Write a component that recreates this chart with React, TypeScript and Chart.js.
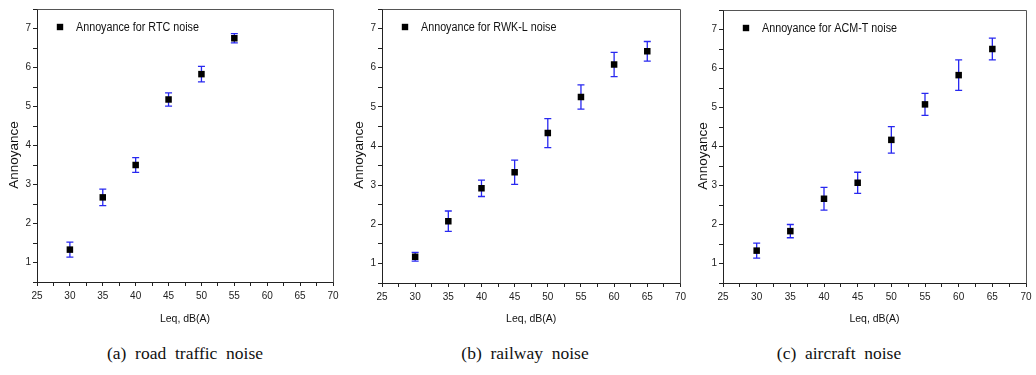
import React, { useEffect, useRef } from 'react';
import { Chart, registerables } from 'chart.js';

Chart.register(...registerables);

// ---------------- data ----------------
const rtcLevels = [30, 35, 40, 45, 50, 55];
const rtcMeans = [1.33, 2.67, 3.5, 5.18, 5.83, 6.75];
const rtcErrors = [0.19, 0.21, 0.19, 0.17, 0.2, 0.12];

const rwkLevels = [30, 35, 40, 45, 50, 55, 60, 65];
const rwkMeans = [1.17, 2.08, 2.92, 3.33, 4.33, 5.25, 6.08, 6.42];
const rwkErrors = [0.11, 0.26, 0.21, 0.31, 0.37, 0.31, 0.31, 0.25];

const acmLevels = [30, 35, 40, 45, 50, 55, 60, 65];
const acmMeans = [1.33, 1.83, 2.66, 3.07, 4.17, 5.08, 5.83, 6.5];
const acmErrors = [0.19, 0.17, 0.29, 0.27, 0.34, 0.28, 0.39, 0.28];

const legendLabels = ['Annoyance for RTC noise', 'Annoyance for RWK-L noise', 'Annoyance for ACM-T noise'];
const captions = ['(a)  road  traffic  noise', '(b)  railway  noise', '(c)  aircraft  noise'];
const xTitle = 'Leq, dB(A)';
const yTitle = 'Annoyance';
const xRange = [25, 70];
const yRange = [0.5, 7.5];

const SANS = "'Liberation Sans', Arial, sans-serif";

type Frame = {
  canvasLeft: number;
  width: number;
  height: number;
  plotLeft: number;
  plotRight: number;
  plotTop: number;
  plotBottom: number;
  yTitleX: number;
  yTitleY: number;
};

const H = 332;
const frames: Frame[] = [
  { canvasLeft: 0, width: 345, height: H, plotLeft: 37, plotRight: 333, plotTop: 9, plotBottom: 282, yTitleX: 14, yTitleY: 155 },
  { canvasLeft: 345, width: 345, height: H, plotLeft: 37, plotRight: 336, plotTop: 9, plotBottom: 283, yTitleX: 14, yTitleY: 155 },
  { canvasLeft: 690, width: 346, height: H, plotLeft: 33, plotRight: 336, plotTop: 10, plotBottom: 283, yTitleX: 13, yTitleY: 156 },
];

const captionCenters = [185, 525, 839];

function Panel(props: { levels: number[]; means: number[]; errors: number[]; label: string; frame: Frame }) {
  const ref = useRef<HTMLCanvasElement>(null);
  useEffect(() => {
    const canvas = ref.current;
    if (!canvas) return;
    const f = props.frame;
    const errors = props.errors;

    const errorBars = {
      id: 'errorBars',
      beforeDatasetsDraw(chart: any) {
        const ctx = chart.ctx;
        const xs = chart.scales.x;
        const ys = chart.scales.y;
        const ds = chart.data.datasets[0];
        ctx.save();
        ctx.strokeStyle = 'rgb(40,40,240)';
        ctx.lineWidth = 1.3;
        ds.data.forEach((p: any, i: number) => {
          const px = xs.getPixelForValue(p.x);
          const top = ys.getPixelForValue(p.y + errors[i]);
          const bot = ys.getPixelForValue(p.y - errors[i]);
          const cap = 3.5;
          ctx.beginPath();
          ctx.moveTo(px, top);
          ctx.lineTo(px, bot);
          ctx.moveTo(px - cap, top);
          ctx.lineTo(px + cap, top);
          ctx.moveTo(px - cap, bot);
          ctx.lineTo(px + cap, bot);
          ctx.stroke();
        });
        ctx.restore();
      },
    };

    const frameAndLabels = {
      id: 'frameAndLabels',
      beforeDatasetsDraw(chart: any) {
        const ctx = chart.ctx;
        const a = chart.chartArea;
        ctx.save();
        ctx.strokeStyle = '#555';
        ctx.lineWidth = 1;
        ctx.beginPath();
        ctx.moveTo(Math.round(a.left) + 0.5, Math.round(a.top) + 0.5);
        ctx.lineTo(Math.round(a.right) + 0.5, Math.round(a.top) + 0.5);
        ctx.lineTo(Math.round(a.right) + 0.5, Math.round(a.bottom) + 0.5);
        ctx.stroke();
        ctx.restore();
      },
      afterDraw(chart: any) {
        const ctx = chart.ctx;
        const a = chart.chartArea;
        ctx.save();
        // legend
        const mx = a.left + 23;
        const my = a.top + 18;
        ctx.fillStyle = '#000';
        ctx.fillRect(mx - 3.2, my - 3.2, 6.4, 6.4);
        ctx.save();
        ctx.translate(a.left + 39, my + 0.5);
        ctx.scale(0.86, 1);
        ctx.font = `12.5px ${SANS}`;
        ctx.fillStyle = '#111';
        ctx.textAlign = 'left';
        ctx.textBaseline = 'middle';
        ctx.fillText(props.label, 0, 0);
        ctx.restore();
        // y title
        ctx.translate(f.yTitleX, f.yTitleY);
        ctx.rotate(-Math.PI / 2);
        ctx.textAlign = 'center';
        ctx.textBaseline = 'middle';
        ctx.fillStyle = '#111';
        ctx.font = `13.5px ${SANS}`;
        ctx.fillText(yTitle, 0, 0);
        ctx.restore();
      },
    };

    const chart = new Chart(canvas, {
      type: 'scatter',
      data: {
        datasets: [
          {
            label: props.label,
            data: props.levels.map((x, i) => ({ x, y: props.means[i] })),
            pointStyle: 'rect',
            pointRadius: 4.6,
            pointHoverRadius: 4.6,
            backgroundColor: '#000',
            borderColor: '#000',
            borderWidth: 0,
          },
        ],
      },
      options: {
        animation: false,
        responsive: false,
        maintainAspectRatio: false,
        events: [],
        layout: { padding: { top: f.plotTop, right: f.width - f.plotRight, left: 0, bottom: 0 } },
        plugins: { legend: { display: false }, tooltip: { enabled: false } },
        scales: {
          x: {
            type: 'linear',
            min: xRange[0],
            max: xRange[1],
            ticks: {
              stepSize: 2.5,
              autoSkip: false,
              maxRotation: 0,
              callback: (v: any) => (Math.abs(v / 5 - Math.round(v / 5)) < 1e-6 ? String(v) : ''),
              font: { family: SANS, size: 10 },
              color: '#222',
              padding: 4,
            },
            grid: { drawOnChartArea: false, drawTicks: true, tickLength: 4, color: '#222' },
            border: { color: '#222', width: 1 },
            title: { display: true, text: xTitle, font: { family: SANS, size: 10.5 }, color: '#111', padding: { top: 0, bottom: 7 } },
            afterFit: (s: any) => {
              s.height = f.height - f.plotBottom;
            },
          },
          y: {
            type: 'linear',
            min: yRange[0],
            max: yRange[1],
            ticks: {
              stepSize: 0.5,
              autoSkip: false,
              callback: (v: any) => (Math.abs(v - Math.round(v)) < 1e-6 ? String(Math.round(v)) : ''),
              font: { family: SANS, size: 10 },
              color: '#222',
              padding: 2,
            },
            grid: { drawOnChartArea: false, drawTicks: true, tickLength: 4, color: '#222' },
            border: { color: '#222', width: 1 },
            afterFit: (s: any) => {
              s.width = f.plotLeft;
            },
          },
        },
      },
      plugins: [errorBars, frameAndLabels],
    });
    return () => chart.destroy();
  }, []);
  const f = props.frame;
  return (
    <canvas
      ref={ref}
      width={f.width}
      height={f.height}
      style={{ position: 'absolute', left: f.canvasLeft, top: 0, width: f.width, height: f.height }}
    />
  );
}

export default function App() {
  return (
    <div style={{ position: 'absolute', left: 0, top: 0, width: 1036, height: 375, background: '#fff', overflow: 'hidden' }}>
      <Panel levels={rtcLevels} means={rtcMeans} errors={rtcErrors} label={legendLabels[0]} frame={frames[0]} />
      <Panel levels={rwkLevels} means={rwkMeans} errors={rwkErrors} label={legendLabels[1]} frame={frames[1]} />
      <Panel levels={acmLevels} means={acmMeans} errors={acmErrors} label={legendLabels[2]} frame={frames[2]} />
      {captions.map((c, i) => (
        <div
          key={i}
          style={{
            position: 'absolute',
            left: captionCenters[i] - 150,
            width: 300,
            top: 342,
            textAlign: 'center',
            whiteSpace: 'pre',
            fontFamily: "'Liberation Serif', 'Times New Roman', serif",
            fontSize: 17.5,
            lineHeight: '22px',
            color: '#111',
          }}
        >
          {c}
        </div>
      ))}
    </div>
  );
}
